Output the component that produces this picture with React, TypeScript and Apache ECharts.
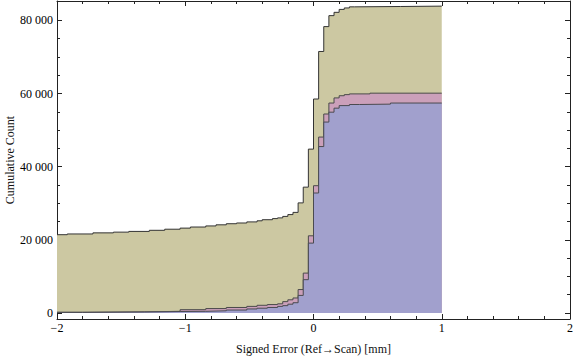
import React, { useEffect, useRef } from "react";
import * as echarts from "echarts";

// Cumulative counts, step changes at bin edges [x, value]
const allCum: [number, number][] = [
  [-2, 21400], [-1.92, 21600], [-1.72, 21900], [-1.56, 22100], [-1.44, 22300],
  [-1.28, 22600], [-1.16, 22900], [-1.04, 23200], [-0.96, 23500], [-0.84, 23800],
  [-0.76, 24100], [-0.68, 24400], [-0.6, 24600], [-0.52, 24900], [-0.44, 25200],
  [-0.4, 25500], [-0.32, 25800], [-0.28, 26000], [-0.24, 26400], [-0.2, 26900],
  [-0.16, 27500], [-0.12, 30100], [-0.08, 34400], [-0.04, 44800], [0, 58500],
  [0.04, 71500], [0.08, 78300], [0.12, 81300], [0.16, 82200], [0.2, 83000],
  [0.24, 83400], [0.28, 83700], [0.32, 83800], [0.68, 83900], [1, 83900],
];

const pinkCum: [number, number][] = [
  [-2, 200], [-1.8, 300], [-1.32, 450], [-1.04, 900], [-0.84, 1200],
  [-0.68, 1500], [-0.52, 1800], [-0.44, 2100], [-0.36, 2300], [-0.28, 2500],
  [-0.24, 3100], [-0.2, 3600], [-0.16, 4100], [-0.12, 6400], [-0.08, 10900],
  [-0.04, 21100], [0, 34800], [0.04, 48100], [0.08, 54400], [0.12, 57400],
  [0.16, 58800], [0.2, 59400], [0.24, 59700], [0.28, 59900], [0.44, 60100],
  [1, 60100],
];

const blueCum: [number, number][] = [
  [-2, 150], [-1.8, 250], [-1.32, 400], [-1.04, 450], [-0.84, 600],
  [-0.68, 800], [-0.52, 1100], [-0.44, 1300], [-0.36, 1500], [-0.28, 1800],
  [-0.24, 2000], [-0.2, 2400], [-0.16, 2800], [-0.12, 4800], [-0.08, 9100],
  [-0.04, 19100], [0, 32800], [0.04, 45500], [0.08, 52200], [0.12, 54900],
  [0.16, 56000], [0.2, 56700], [0.28, 57000], [0.36, 57100], [0.6, 57400],
  [1, 57400],
];

const yMajorTicks = [0, 20000, 40000, 60000, 80000];
const yMinorTicks = [5000, 10000, 15000, 25000, 30000, 35000, 45000, 50000, 55000, 65000, 70000, 75000];

const FONT = "'Liberation Serif', 'DejaVu Serif', serif";
const FRAME = "#222";

export default function App() {
  const ref = useRef<HTMLDivElement>(null);
  useEffect(() => {
    if (!ref.current) return;
    const chart = echarts.init(ref.current, undefined, { renderer: "svg" });
    const xBase = {
      type: "value" as const,
      min: -2,
      max: 2,
      interval: 1,
      splitLine: { show: false },
      axisLine: { show: true, onZero: false, lineStyle: { color: FRAME, width: 1 } },
      axisTick: { show: true, inside: true, length: 5, lineStyle: { color: FRAME } },
      minorTick: { show: true, splitNumber: 5, length: 3, lineStyle: { color: FRAME } },
    };
    const yBase = {
      type: "value" as const,
      min: -1650,
      max: 85300,
      splitLine: { show: false },
    };
    chart.setOption({
      animation: false,
      grid: { left: 57, right: 6, top: 1, bottom: 40, containLabel: false, outerBoundsMode: "none" },
      xAxis: [
        {
          ...xBase,
          position: "bottom",
          axisLabel: {
            show: true,
            fontFamily: FONT,
            fontSize: 12,
            color: "#000",
            margin: 3,
            formatter: (v: number) => String(v).replace("-", "\u2212"),
          },
          name: "Signed Error (Ref\u2192Scan) [mm]",
          nameLocation: "middle",
          nameGap: 24,
          nameMoveOverlap: false,
          nameTextStyle: { fontFamily: FONT, fontSize: 12, color: "#111" },
        },
        {
          ...xBase,
          position: "top",
          axisLabel: { show: false },
        },
      ],
      yAxis: [
        {
          ...yBase,
          position: "left",
          axisLine: { show: true, onZero: false, lineStyle: { color: FRAME, width: 1 } },
          axisTick: { show: true, inside: true, length: 5, customValues: yMajorTicks, lineStyle: { color: FRAME } },
          axisLabel: {
            show: true,
            customValues: yMajorTicks,
            fontFamily: FONT,
            fontSize: 12,
            color: "#000",
            margin: 4,
            formatter: (v: number) => String(v).replace(/\B(?=(\d{3})+(?!\d))/g, " "),
          },
          name: "Cumulative Count",
          nameLocation: "middle",
          nameGap: 41,
          nameMoveOverlap: false,
          nameTextStyle: { fontFamily: FONT, fontSize: 12, color: "#111" },
        },
        {
          ...yBase,
          position: "left",
          axisLine: { show: false, onZero: false },
          axisTick: { show: true, inside: true, length: 3, customValues: yMinorTicks, lineStyle: { color: FRAME } },
          axisLabel: { show: false },
        },
        {
          ...yBase,
          position: "right",
          axisLine: { show: true, onZero: false, lineStyle: { color: FRAME, width: 1 } },
          axisTick: { show: true, inside: true, length: 5, customValues: yMajorTicks, lineStyle: { color: FRAME } },
          axisLabel: { show: false },
        },
        {
          ...yBase,
          position: "right",
          axisLine: { show: false, onZero: false },
          axisTick: { show: true, inside: true, length: 3, customValues: yMinorTicks, lineStyle: { color: FRAME } },
          axisLabel: { show: false },
        },
      ],
      series: [
        {
          type: "line",
          step: "end",
          data: allCum,
          symbol: "none",
          z: 1,
          lineStyle: { color: "#333", width: 1 },
          areaStyle: { color: "#CCC8A2", opacity: 1 },
        },
        {
          type: "line",
          step: "end",
          data: pinkCum,
          symbol: "none",
          z: 2,
          lineStyle: { color: "#4a4a4a", width: 1 },
          areaStyle: { color: "#CBA0BA", opacity: 1 },
        },
        {
          type: "line",
          step: "end",
          data: blueCum,
          symbol: "none",
          z: 3,
          lineStyle: { color: "#4a4a50", width: 1 },
          areaStyle: { color: "#A1A0CD", opacity: 1 },
        },
      ],
    });
    return () => chart.dispose();
  }, []);
  return (
    <div
      ref={ref}
      style={{ position: "fixed", left: 0, top: 0, width: 576, height: 359, background: "#fff" }}
    />
  );
}
